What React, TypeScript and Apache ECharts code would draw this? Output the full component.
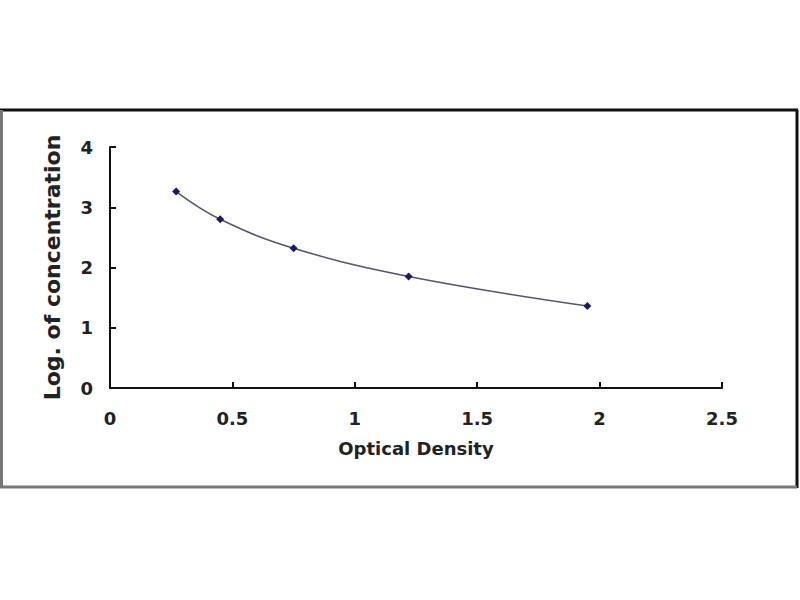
import React, { useEffect, useRef } from "react";
import * as echarts from "echarts";

const opticalDensity = [0.27, 0.45, 0.75, 1.22, 1.95];
const logConcentration = [3.26, 2.8, 2.32, 1.85, 1.36];
const xTicks = [0, 0.5, 1, 1.5, 2, 2.5];
const yTicks = [0, 1, 2, 3, 4];
const xTitle = "Optical Density";
const yTitle = "Log. of concentration";

const FONT = "DejaVu Sans";

export default function App() {
  const ref = useRef<HTMLDivElement>(null);
  useEffect(() => {
    if (!ref.current) return;
    const chart = echarts.init(ref.current, undefined, { renderer: "svg" });
    const data = opticalDensity.map((x, i) => [x, logConcentration[i]]);
    chart.setOption({
      animation: false,
      backgroundColor: "#ffffff",
      grid: { left: 110, top: 147, right: 78, bottom: 212, containLabel: false },
      xAxis: {
        type: "value",
        min: xTicks[0],
        max: xTicks[xTicks.length - 1],
        interval: 0.5,
        name: xTitle,
        nameLocation: "middle",
        nameGap: 51,
        nameTextStyle: { fontFamily: FONT, fontWeight: "bold", fontSize: 18, color: "#222" },
        axisLine: { show: true, lineStyle: { color: "#111", width: 2 } },
        axisTick: { show: true, inside: true, length: 6, lineStyle: { color: "#111", width: 2 } },
        axisLabel: {
          margin: 21,
          fontFamily: FONT,
          fontWeight: "bold",
          fontSize: 18,
          color: "#222",
          formatter: (v: number) => String(v),
        },
        splitLine: { show: false },
      },
      yAxis: {
        type: "value",
        min: yTicks[0],
        max: yTicks[yTicks.length - 1],
        interval: 1,
        name: yTitle,
        nameLocation: "middle",
        nameGap: 47,
        nameRotate: 90,
        nameTextStyle: { fontFamily: FONT, fontWeight: "bold", fontSize: 22, color: "#222" },
        axisLine: { show: true, lineStyle: { color: "#111", width: 2 } },
        axisTick: { show: true, inside: true, length: 6, lineStyle: { color: "#111", width: 2 } },
        axisLabel: {
          margin: 17,
          fontFamily: FONT,
          fontWeight: "bold",
          fontSize: 18,
          color: "#222",
        },
        splitLine: { show: false },
      },
      series: [
        {
          type: "line",
          data,
          smooth: 0.4,
          symbol: "diamond",
          symbolSize: 8,
          itemStyle: { color: "#1a1a5e" },
          lineStyle: { color: "#55556e", width: 1.5 },
        },
      ],
      graphic: [
        { type: "line", shape: { x1: 0, y1: 110, x2: 798, y2: 110 }, style: { stroke: "#111", lineWidth: 3 } },
        { type: "line", shape: { x1: 797, y1: 110, x2: 797, y2: 488 }, style: { stroke: "#111", lineWidth: 3 } },
        { type: "line", shape: { x1: 1.5, y1: 110, x2: 1.5, y2: 488 }, style: { stroke: "#777", lineWidth: 3 } },
        { type: "line", shape: { x1: 0, y1: 487, x2: 797, y2: 487 }, style: { stroke: "#777", lineWidth: 3 } },
      ],
    });
    return () => chart.dispose();
  }, []);
  return (
    <div
      ref={ref}
      style={{ position: "absolute", left: 0, top: 0, width: 800, height: 600 }}
    />
  );
}
